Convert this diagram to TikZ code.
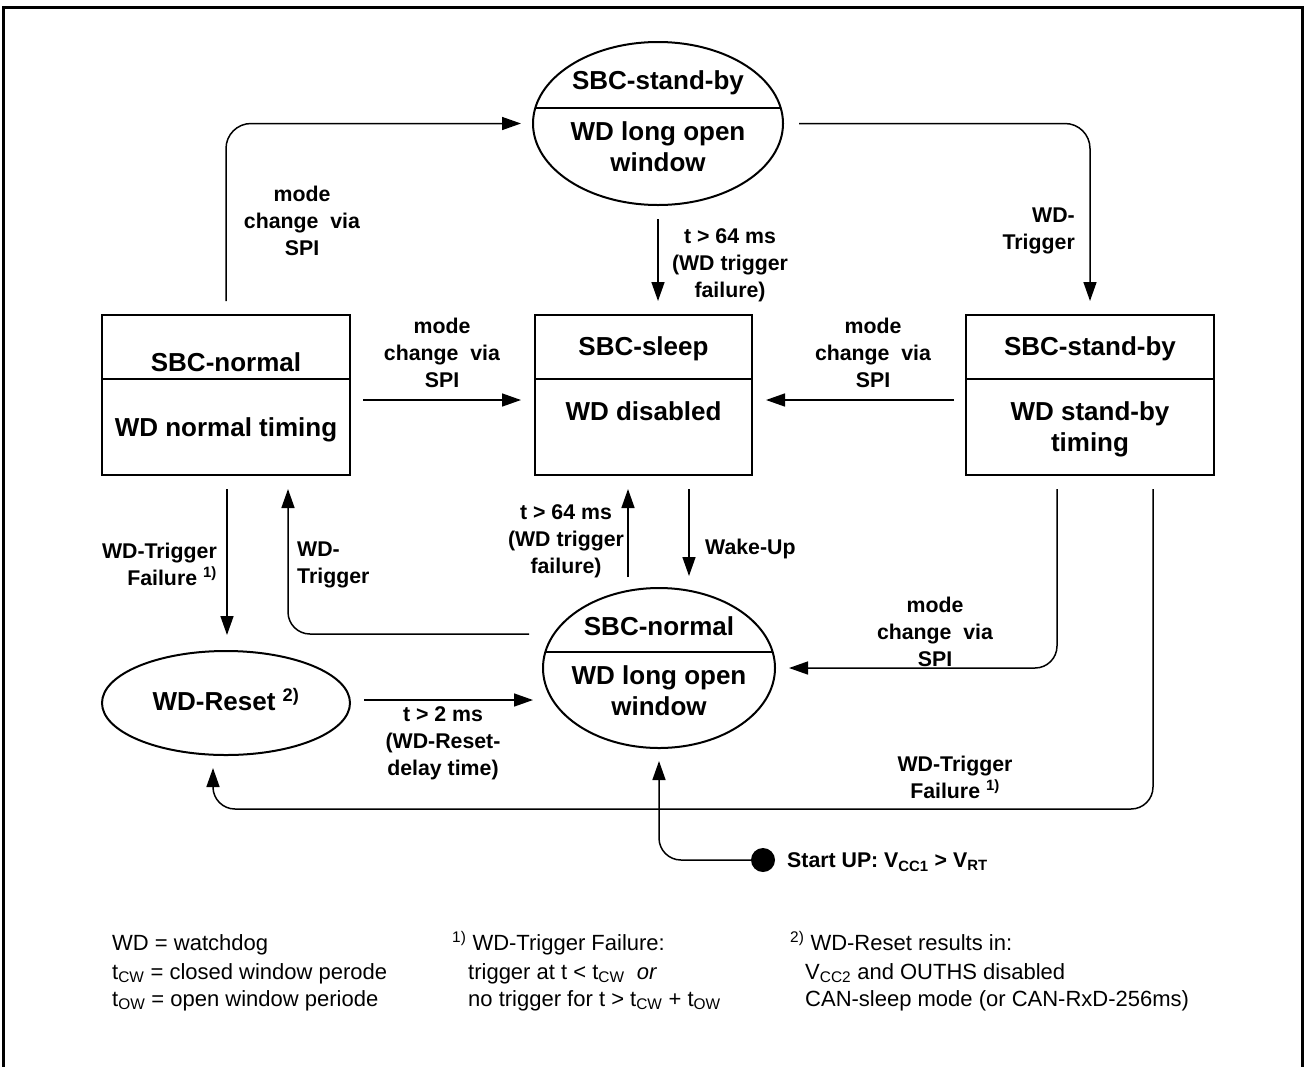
\documentclass[tikz,border=0pt]{standalone}
\usepackage{fontspec}
\setmainfont{Liberation Sans}
\usetikzlibrary{arrows.meta,calc,shapes.geometric}
\begin{document}
\begin{tikzpicture}[x=1pt,y=-1pt,
  box/.style={draw,line width=2pt,minimum height=160pt,inner sep=0pt},
  oval/.style={draw,ellipse,line width=2pt,inner sep=0pt},
  st/.style={font=\fontsize{26}{31}\selectfont\bfseries,align=center,inner sep=0pt},
  lbl/.style={font=\fontsize{21.3}{27}\selectfont\bfseries,align=center,inner sep=0pt},
  note/.style={font=\fontsize{22}{27}\selectfont,anchor=base west,inner sep=0pt},
  conn/.style={line width=1.5pt,-{Triangle[length=19pt,width=13pt]}},
  divider/.style={line width=2pt}
]
\useasboundingbox (0,0) rectangle (1306,1066);
% frame
\draw[line width=3pt] (3,1070) -- (3,7) -- (1302,7) -- (1302,1070);

% state shapes
\node[oval,minimum width=250pt,minimum height=163pt] (top) at (658,123.5) {};
\node[box,minimum width=248pt] (ln) at (226,395) {};
\node[box,minimum width=217pt] (sl) at (643.5,395) {};
\node[box,minimum width=248pt] (rs) at (1090,395) {};
\node[oval,minimum width=232pt,minimum height=160pt] (bot) at (659,668) {};
\node[oval,minimum width=248pt,minimum height=104pt] (reset) at (226,703) {};
\node[circle,fill,minimum size=24pt,inner sep=0pt] (start) at (763,860) {};

% dividers
\draw[divider] ($(top.center)+(-122.7,-15.5)$) -- ($(top.center)+(122.7,-15.5)$);
\draw[divider] ($(ln.west)+(0,-16)$) -- ($(ln.east)+(0,-16)$);
\draw[divider] ($(sl.west)+(0,-16)$) -- ($(sl.east)+(0,-16)$);
\draw[divider] ($(rs.west)+(0,-16)$) -- ($(rs.east)+(0,-16)$);
\draw[divider] ($(bot.center)+(-113.7,-16)$) -- ($(bot.center)+(113.7,-16)$);

% state texts
\node[st] (topA) at (658,83) {SBC-stand-by};
\node[st] (topB) at (658,147) {WD long open\\window};
\node[st] (lnA) at (226,362) {SBC-normal};
\node[st] (lnB) at (226,430) {WD normal timing};
\node[st] (slA) at (643.5,349) {SBC-sleep};
\node[st] (slB) at (643.5,411) {WD disabled};
\node[st] (rsA) at (1090,349) {SBC-stand-by};
\node[st] (rsB) at (1090,429) {WD stand-by\\timing};
\node[st] (botA) at (659,626) {SBC-normal};
\node[st] (botB) at (659,691) {WD long open\\window};
\node[st] (resetA) at (226,700) {WD-Reset \textsuperscript{2)}};

% connectors
\draw[conn,rounded corners=25pt] ($(ln.north)+(0,-13)$) |- ($(top.west)+(-11,0)$);
\draw[conn,rounded corners=25pt] ($(top.east)+(15,0)$) -| ($(rs.north)+(0,-13)$);
\draw[conn] ($(top.south)+(0,13)$) -- ($(top.south |- sl.north)+(0,-13)$);
\draw[conn] ($(ln.east)+(12,5)$) -- ($(sl.west)+(-13,5)$);
\draw[conn] ($(rs.west)+(-11,5)$) -- ($(sl.east)+(13,5)$);
\draw[conn] ($(ln.south)+(1,13)$) -- ($(reset.north)+(1,-15)$);
\draw[conn,rounded corners=22pt] ($(bot.west)+(-13,-34)$) -| ($(ln.south)+(62,13)$);
\draw[conn] ($(bot.north)+(-31,-10)$) -- ($(sl.south)+(-15.5,13)$);
\draw[conn] ($(sl.south)+(45.5,13)$) -- ($(bot.north)+(30,-11)$);
\draw[conn] ($(reset.east)+(13,-3)$) -- ($(bot.west)+(-9,32)$);
\draw[conn,rounded corners=22pt] ($(rs.south)+(-33,13)$) |- ($(bot.east)+(13,0)$);
\draw[conn,rounded corners=22pt] ($(rs.south)+(63,13)$) |- ($(reset.south)+(-13,53)$) -- ($(reset.south)+(-13,12)$);
\draw[conn,rounded corners=22pt] (start.west) -| ($(bot.south)+(0,12)$);

% connector labels
\node[lbl] (la) at (302,221) {mode\\change~~via\\SPI};
\node[lbl,anchor=east,align=right] (lb) at (1075,231) {WD-\\Trigger};
\node[lbl] (lc) at (730,265) {t > 64 ms\\(WD trigger\\failure)};
\node[lbl] (ld) at (442,353) {mode\\change~~via\\SPI};
\node[lbl] (le) at (873,353) {mode\\change~~via\\SPI};
\node[lbl,anchor=east,align=right] (lf) at (217,564) {WD-Trigger\\Failure \textsuperscript{1)}};
\node[lbl,anchor=west,align=left] (lg) at (297,565) {WD-\\Trigger};
\node[lbl] (lh) at (566,541) {t > 64 ms\\(WD trigger\\failure)};
\node[lbl,anchor=west] (li) at (705,549) {Wake-Up};
\node[lbl] (lj) at (443,743) {t > 2 ms\\(WD-Reset-\\delay time)};
\node[lbl] (lk) at (935,632) {mode\\change~~via\\SPI};
\node[lbl] (ll) at (955,777) {WD-Trigger\\Failure \textsuperscript{1)}};
\node[lbl,anchor=west] (lm) at (787,862) {Start UP: V\textsubscript{CC1} > V\textsubscript{RT}};

% notes
\node[note] (n1) at (112,950) {WD = watchdog};
\node[note] (n2) at (112,979) {t\textsubscript{CW} = closed window perode};
\node[note] (n3) at (112,1006) {t\textsubscript{OW} = open window periode};
\node[note] (n4) at (452,950) {\textsuperscript{1)} WD-Trigger Failure:};
\node[note] (n5) at (468,979) {trigger at t < t\textsubscript{CW}~~\textit{or}};
\node[note] (n6) at (468,1006) {no trigger for t > t\textsubscript{CW} + t\textsubscript{OW}};
\node[note] (n7) at (790,950) {\textsuperscript{2)} WD-Reset results in:};
\node[note] (n8) at (805,979) {V\textsubscript{CC2} and OUTHS disabled};
\node[note] (n9) at (805,1006) {CAN-sleep mode (or CAN-RxD-256ms)};
\end{tikzpicture}
\end{document}
